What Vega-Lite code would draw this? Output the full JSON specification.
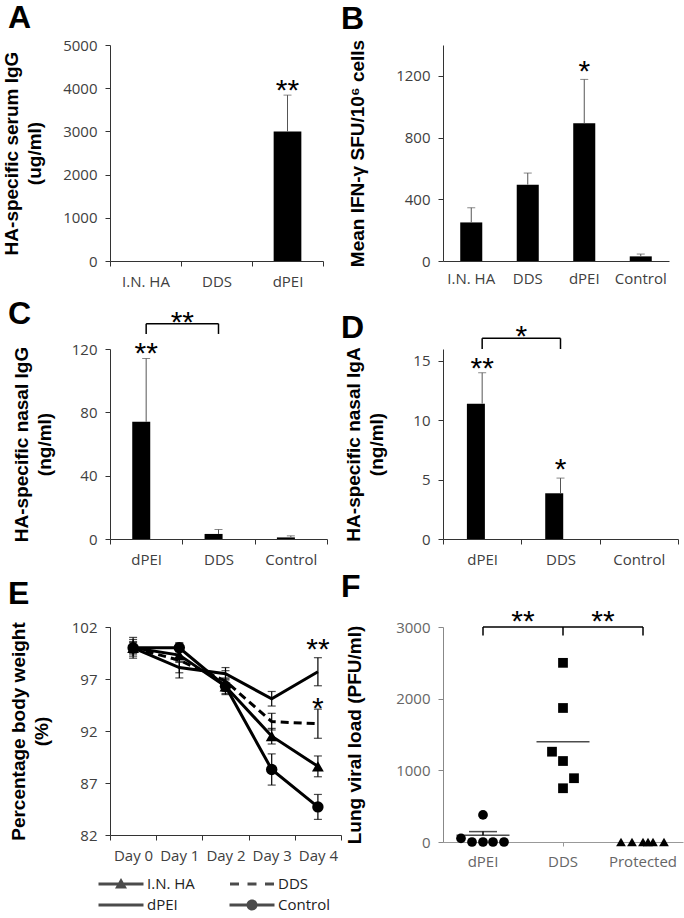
{
  "$schema": "https://vega.github.io/schema/vega-lite/v6.json",
  "background": "white",
  "padding": {"left": 2, "top": 2, "right": 4, "bottom": 0},
  "bounds": "flush",
  "columns": 2,
  "spacing": {"row": 88, "column": 102},
  "resolve": {"scale": {"shape": "independent", "xOffset": "independent"}, "legend": {"shape": "independent"}},
  "config": {
    "view": {"stroke": null},
    "axis": {"grid": false, "labelFont": "Open Sans", "labelFontSize": 15, "labelColor": "#404040", "domainColor": "#333", "tickColor": "#333", "titleFont": "Liberation Sans", "titleFontSize": 19, "titleFontWeight": "bold", "titleColor": "black", "titleLineHeight": 23, "tickSize": 5, "labelPadding": 8, "labelOverlap": false, "labelFlush": false},
    "axisX": {"labelAngle": 0},
    "axisY": {"format": "d"},
    "title": {"font": "Liberation Sans", "fontSize": 32, "fontWeight": "bold", "color": "black", "anchor": "start", "frame": "group", "dx": -102, "baseline": "alphabetic"},
    "text": {"font": "Liberation Sans", "fontSize": 30, "baseline": "alphabetic", "dy": 17, "align": "center", "color": "black"}
  },
  "concat": [
    {
      "width": 213, "height": 216,
      "title": {"text": "A", "offset": 3},
      "encoding": {"x": {"field": "g", "type": "nominal", "sort": null, "scale": {"domain": ["I.N. HA", "DDS", "dPEI"], "paddingInner": 0, "paddingOuter": 0}, "axis": {"title": null, "tickBand": "extent"}}},
      "layer": [
        {"data": {"values": [{"g": "I.N. HA", "v": 0}, {"g": "DDS", "v": 0}, {"g": "dPEI", "v": 3000}]},
         "mark": {"type": "bar", "color": "black", "width": {"band": 0.39}},
         "encoding": {"y": {"field": "v", "type": "quantitative", "scale": {"domain": [0, 5000]}, "axis": {"values": [0, 1000, 2000, 3000, 4000, 5000], "title": ["HA-specific serum IgG", "(ug/ml)"], "titlePadding": 18}}}},
        {"data": {"values": [{"g": "dPEI", "v": 3000, "u": 3840}]},
         "mark": {"type": "rule", "color": "#555", "strokeWidth": 1},
         "encoding": {"y": {"field": "v", "type": "quantitative"}, "y2": {"field": "u"}}},
        {"data": {"values": [{"g": "dPEI", "u": 3840}]},
         "mark": {"type": "tick", "color": "#555", "size": 8, "thickness": 1, "orient": "horizontal"},
         "encoding": {"y": {"field": "u", "type": "quantitative"}}},
        {"data": {"values": [{"g": "dPEI", "y": 4110, "t": "**"}]},
         "mark": {"type": "text"},
         "encoding": {"y": {"field": "y", "type": "quantitative"}, "text": {"field": "t"}}}
      ]
    },
    {
      "width": 226, "height": 216,
      "title": {"text": "B", "offset": 3},
      "encoding": {"x": {"field": "g", "type": "nominal", "sort": null, "scale": {"domain": ["I.N. HA", "DDS", "dPEI", "Control"], "paddingInner": 0, "paddingOuter": 0}, "axis": {"title": null, "ticks": false, "labelPadding": 10}}},
      "layer": [
        {"data": {"values": [{"g": "I.N. HA", "v": 250}, {"g": "DDS", "v": 495}, {"g": "dPEI", "v": 893}, {"g": "Control", "v": 30}]},
         "mark": {"type": "bar", "color": "black", "width": {"band": 0.39}},
         "encoding": {"y": {"field": "v", "type": "quantitative", "scale": {"domain": [0, 1400]}, "axis": {"values": [0, 200, 400, 600, 800, 1000, 1200, 1400], "title": "Mean IFN-γ SFU/10⁶ cells", "titlePadding": 28}}}},
        {"data": {"values": [{"g": "I.N. HA", "v": 250, "u": 345}, {"g": "DDS", "v": 495, "u": 570}, {"g": "dPEI", "v": 893, "u": 1177}, {"g": "Control", "v": 30, "u": 45}]},
         "mark": {"type": "rule", "color": "#555", "strokeWidth": 1},
         "encoding": {"y": {"field": "v", "type": "quantitative"}, "y2": {"field": "u"}}},
        {"data": {"values": [{"g": "I.N. HA", "u": 345}, {"g": "DDS", "u": 570}, {"g": "dPEI", "u": 1177}, {"g": "Control", "u": 45}]},
         "mark": {"type": "tick", "color": "#555", "size": 8, "thickness": 1, "orient": "horizontal"},
         "encoding": {"y": {"field": "u", "type": "quantitative"}}},
        {"data": {"values": [{"g": "dPEI", "y": 1280, "t": "*"}]},
         "mark": {"type": "text"},
         "encoding": {"y": {"field": "y", "type": "quantitative"}, "text": {"field": "t"}}}
      ]
    },
    {
      "width": 217, "height": 190,
      "title": {"text": "C", "offset": -23},
      "encoding": {"x": {"field": "g", "type": "nominal", "sort": null, "scale": {"domain": ["dPEI", "DDS", "Control"], "paddingInner": 0, "paddingOuter": 0}, "axis": {"title": null, "tickBand": "extent"}}},
      "layer": [
        {"data": {"values": [{"g": "dPEI", "v": 74}, {"g": "DDS", "v": 3.2}, {"g": "Control", "v": 1.0}]},
         "mark": {"type": "bar", "color": "black", "width": {"band": 0.385}},
         "encoding": {"y": {"field": "v", "type": "quantitative", "scale": {"domain": [0, 120]}, "axis": {"values": [0, 20, 40, 60, 80, 100, 120], "title": ["HA-specific nasal IgG", "(ng/ml)"], "titlePadding": 17}}}},
        {"data": {"values": [{"g": "dPEI", "v": 74, "u": 114}, {"g": "DDS", "v": 3.2, "u": 6}, {"g": "Control", "v": 1.0, "u": 2}]},
         "mark": {"type": "rule", "color": "#555", "strokeWidth": 1},
         "encoding": {"y": {"field": "v", "type": "quantitative"}, "y2": {"field": "u"}}},
        {"data": {"values": [{"g": "dPEI", "u": 114}, {"g": "DDS", "u": 6}, {"g": "Control", "u": 2}]},
         "mark": {"type": "tick", "color": "#555", "size": 8, "thickness": 1, "orient": "horizontal"},
         "encoding": {"y": {"field": "u", "type": "quantitative"}}},
        {"data": {"values": [{"g": "dPEI", "y": 122, "t": "**"}]},
         "mark": {"type": "text"},
         "encoding": {"y": {"field": "y", "type": "quantitative"}, "text": {"field": "t"}}},
        {"data": {"values": [{"g": "dPEI", "g2": "DDS", "y": 136}]},
         "mark": {"type": "rule", "color": "black", "strokeWidth": 1.5},
         "encoding": {"y": {"field": "y", "type": "quantitative"}, "x2": {"field": "g2"}}},
        {"data": {"values": [{"g": "dPEI", "y": 136, "y2": 129.5}, {"g": "DDS", "y": 136, "y2": 129.5}]},
         "mark": {"type": "rule", "color": "black", "strokeWidth": 1.5},
         "encoding": {"y": {"field": "y", "type": "quantitative"}, "y2": {"field": "y2"}}},
        {"data": {"values": [{"g": "dPEI", "o": 0.5, "y": 141.5, "t": "**"}]},
         "mark": {"type": "text"},
         "encoding": {"xOffset": {"field": "o", "type": "quantitative", "scale": {"domain": [-0.5, 0.5], "range": [0, 72.33]}}, "y": {"field": "y", "type": "quantitative"}, "text": {"field": "t"}}}
      ]
    },
    {
      "width": 235, "height": 190,
      "title": {"text": "D", "offset": -23},
      "encoding": {"x": {"field": "g", "type": "nominal", "sort": null, "scale": {"domain": ["dPEI", "DDS", "Control"], "paddingInner": 0, "paddingOuter": 0}, "axis": {"title": null, "tickBand": "extent"}}},
      "layer": [
        {"data": {"values": [{"g": "dPEI", "v": 11.4}, {"g": "DDS", "v": 3.85}, {"g": "Control", "v": 0}]},
         "mark": {"type": "bar", "color": "black", "width": {"band": 0.39}},
         "encoding": {"y": {"field": "v", "type": "quantitative", "scale": {"domain": [0, 15]}, "axis": {"values": [0, 5, 10, 15], "title": ["HA-specific nasal IgA", "(ng/ml)"], "titlePadding": 26}}}},
        {"data": {"values": [{"g": "dPEI", "v": 11.4, "u": 14.0}, {"g": "DDS", "v": 3.85, "u": 5.13}]},
         "mark": {"type": "rule", "color": "#555", "strokeWidth": 1},
         "encoding": {"y": {"field": "v", "type": "quantitative"}, "y2": {"field": "u"}}},
        {"data": {"values": [{"g": "dPEI", "u": 14.0}, {"g": "DDS", "u": 5.13}]},
         "mark": {"type": "tick", "color": "#555", "size": 8, "thickness": 1, "orient": "horizontal"},
         "encoding": {"y": {"field": "u", "type": "quantitative"}}},
        {"data": {"values": [{"g": "dPEI", "y": 15.0, "t": "**"}, {"g": "DDS", "y": 6.5, "t": "*"}]},
         "mark": {"type": "text"},
         "encoding": {"y": {"field": "y", "type": "quantitative"}, "text": {"field": "t"}}},
        {"data": {"values": [{"g": "dPEI", "g2": "DDS", "y": 16.9}]},
         "mark": {"type": "rule", "color": "black", "strokeWidth": 1.5},
         "encoding": {"y": {"field": "y", "type": "quantitative"}, "x2": {"field": "g2"}}},
        {"data": {"values": [{"g": "dPEI", "y": 16.9, "y2": 16.0}, {"g": "DDS", "y": 16.9, "y2": 16.0}]},
         "mark": {"type": "rule", "color": "black", "strokeWidth": 1.5},
         "encoding": {"y": {"field": "y", "type": "quantitative"}, "y2": {"field": "y2"}}},
        {"data": {"values": [{"g": "dPEI", "o": 0.5, "y": 17.7, "t": "*"}]},
         "mark": {"type": "text"},
         "encoding": {"xOffset": {"field": "o", "type": "quantitative", "scale": {"domain": [-0.5, 0.5], "range": [0, 78.33]}}, "y": {"field": "y", "type": "quantitative"}, "text": {"field": "t"}}}
      ]
    },
    {
      "width": 231, "height": 208,
      "title": {"text": "E", "offset": 9},
      "encoding": {"x": {"field": "day", "type": "nominal", "sort": null, "scale": {"domain": ["Day 0", "Day 1", "Day 2", "Day 3", "Day 4"], "paddingInner": 0, "paddingOuter": 0}, "axis": {"title": null, "tickBand": "extent"}}},
      "layer": [
        {"data": {"name": "e"},
         "transform": [{"filter": {"not": {"field": "series", "equal": "DDS"}}}],
         "mark": {"type": "line", "color": "black", "strokeWidth": 3},
         "encoding": {"y": {"field": "w", "type": "quantitative", "scale": {"domain": [82, 102]}, "axis": {"values": [82, 87, 92, 97, 102], "title": ["Percentage body weight", "(%)"], "titlePadding": 20}},
                      "detail": {"field": "series"}}},
        {"data": {"name": "e"},
         "transform": [{"filter": {"field": "series", "equal": "DDS"}}],
         "mark": {"type": "line", "color": "black", "strokeWidth": 3, "strokeDash": [8, 5]},
         "encoding": {"y": {"field": "w", "type": "quantitative"}}},
        {"data": {"name": "e"},
         "mark": {"type": "rule", "color": "black", "strokeWidth": 1.2},
         "encoding": {"y": {"field": "lo", "type": "quantitative"}, "y2": {"field": "hi"}}},
        {"data": {"name": "e"},
         "mark": {"type": "tick", "color": "black", "size": 8, "thickness": 1.2, "orient": "horizontal"},
         "encoding": {"y": {"field": "hi", "type": "quantitative"}}},
        {"data": {"name": "e"},
         "mark": {"type": "tick", "color": "black", "size": 8, "thickness": 1.2, "orient": "horizontal"},
         "encoding": {"y": {"field": "lo", "type": "quantitative"}}},
        {"data": {"name": "e"},
         "transform": [{"filter": {"field": "series", "equal": "I.N. HA"}}],
         "mark": {"type": "point", "shape": "triangle-up", "filled": true, "color": "black", "opacity": 1, "size": 140},
         "encoding": {"y": {"field": "w", "type": "quantitative"}}},
        {"data": {"name": "e"},
         "transform": [{"filter": {"field": "series", "equal": "Control"}}],
         "mark": {"type": "point", "shape": "circle", "filled": true, "color": "black", "opacity": 1, "size": 130},
         "encoding": {"y": {"field": "w", "type": "quantitative"}}},
        {"data": {"values": [{"day": "Day 4", "y": 100.6, "t": "**"}, {"day": "Day 4", "y": 94.9, "t": "*"}]},
         "mark": {"type": "text"},
         "encoding": {"y": {"field": "y", "type": "quantitative"}, "text": {"field": "t"}}},
        {"data": {"values": [{"series": "I.N. HA", "day": "Day 0", "w": 100}, {"series": "DDS", "day": "Day 0", "w": 100}, {"series": "dPEI", "day": "Day 0", "w": 100}, {"series": "Control", "day": "Day 0", "w": 100}]},
         "mark": {"type": "point", "filled": true, "color": "black", "size": 0},
         "encoding": {"y": {"field": "w", "type": "quantitative"},
            "shape": {"field": "series", "type": "nominal",
            "scale": {"domain": ["I.N. HA", "DDS", "dPEI", "Control"],
                      "range": ["M-2.25,-0.15L2.25,-0.15L2.25,0.15L-2.25,0.15ZM-0.6,0.45L0,-0.6L0.6,0.45Z", "M-2.2,-0.15L-1.3,-0.15L-1.3,0.15L-2.2,0.15ZM-0.45,-0.15L0.45,-0.15L0.45,0.15L-0.45,0.15ZM1.3,-0.15L2.2,-0.15L2.2,0.15L1.3,0.15Z", "M-2.25,-0.15L2.25,-0.15L2.25,0.15L-2.25,0.15Z", "M-2.25,-0.15L2.25,-0.15L2.25,0.15L-2.25,0.15ZM-0.55,0A0.55,0.55,0,1,1,0.55,0A0.55,0.55,0,1,1,-0.55,0Z"]},
            "legend": {"title": null, "orient": "bottom", "offset": 10, "direction": "horizontal", "columns": 2, "columnPadding": 31, "rowPadding": 2, "symbolSize": 400, "symbolFillColor": "black", "labelFont": "Open Sans", "labelFontSize": 15, "labelColor": "#222", "labelOffset": 15}}}}
      ]
    },
    {
      "width": 240, "height": 215,
      "title": {"text": "F", "offset": 3},
      "encoding": {"x": {"field": "g", "type": "nominal", "sort": null, "scale": {"domain": ["dPEI", "DDS", "Protected"], "paddingInner": 0, "paddingOuter": 0}, "axis": {"title": null, "domainColor": "#999", "tickColor": "#999", "tickSize": 4, "labelColor": "#666"}}},
      "layer": [
        {"data": {"values": [
            {"g": "dPEI", "v": 378, "o": 0}, {"g": "dPEI", "v": 50, "o": -22}, {"g": "dPEI", "v": 0, "o": -11}, {"g": "dPEI", "v": 0, "o": 0}, {"g": "dPEI", "v": 0, "o": 10}, {"g": "dPEI", "v": 0, "o": 21},
            {"g": "DDS", "v": 2500, "o": 0}, {"g": "DDS", "v": 1870, "o": 0}, {"g": "DDS", "v": 1260, "o": -11}, {"g": "DDS", "v": 1130, "o": 0}, {"g": "DDS", "v": 890, "o": 11}, {"g": "DDS", "v": 750, "o": 0},
            {"g": "Protected", "v": 0, "o": -22}, {"g": "Protected", "v": 0, "o": -11}, {"g": "Protected", "v": 0, "o": 0}, {"g": "Protected", "v": 0, "o": 5}, {"g": "Protected", "v": 0, "o": 10}, {"g": "Protected", "v": 0, "o": 21}]},
         "mark": {"type": "point", "filled": true, "color": "black", "opacity": 1, "size": 95},
         "encoding": {"xOffset": {"field": "o", "type": "quantitative", "scale": {"domain": [-40, 40], "range": [0, 80]}},
                      "y": {"field": "v", "type": "quantitative", "scale": {"domain": [0, 3000]}, "axis": {"values": [0, 1000, 2000, 3000], "title": "Lung viral load  (PFU/ml)", "titlePadding": 31, "labelColor": "#666", "domainColor": "#888", "tickColor": "#888"}},
                      "shape": {"field": "g", "type": "nominal", "scale": {"domain": ["dPEI", "DDS", "Protected"], "range": ["circle", "square", "triangle-up"]}, "legend": null}}},
        {"data": {"values": [{"g": "dPEI", "m": 94}, {"g": "DDS", "m": 1400}]},
         "mark": {"type": "tick", "color": "black", "size": 53, "thickness": 1.5, "orient": "horizontal"},
         "encoding": {"y": {"field": "m", "type": "quantitative"}}},
        {"data": {"values": [{"g": "dPEI", "m": 94, "u": 145}]},
         "mark": {"type": "rule", "color": "black", "strokeWidth": 1.5},
         "encoding": {"y": {"field": "m", "type": "quantitative"}, "y2": {"field": "u"}}},
        {"data": {"values": [{"g": "dPEI", "u": 145}]},
         "mark": {"type": "tick", "color": "black", "size": 28, "thickness": 1.5, "orient": "horizontal"},
         "encoding": {"y": {"field": "u", "type": "quantitative"}}},
        {"data": {"values": [{"g": "dPEI", "g2": "DDS", "y": 3000}, {"g": "DDS", "g2": "Protected", "y": 3000}]},
         "mark": {"type": "rule", "color": "black", "strokeWidth": 1.5},
         "encoding": {"y": {"field": "y", "type": "quantitative"}, "x2": {"field": "g2"}}},
        {"data": {"values": [{"g": "dPEI", "y": 3000, "y2": 2880}, {"g": "DDS", "y": 3000, "y2": 2880}, {"g": "Protected", "y": 3000, "y2": 2880}]},
         "mark": {"type": "rule", "color": "black", "strokeWidth": 1.5},
         "encoding": {"y": {"field": "y", "type": "quantitative"}, "y2": {"field": "y2"}}},
        {"data": {"values": [{"g": "dPEI", "o": 40, "y": 3180, "t": "**"}, {"g": "DDS", "o": 40, "y": 3180, "t": "**"}]},
         "mark": {"type": "text"},
         "encoding": {"xOffset": {"field": "o", "type": "quantitative", "scale": {"domain": [-40, 40], "range": [0, 80]}}, "y": {"field": "y", "type": "quantitative"}, "text": {"field": "t"}}}
      ]
    }
  ],
  "datasets": {
    "e": [
      {"series": "I.N. HA", "day": "Day 0", "w": 100.0, "lo": 99.2, "hi": 100.8},
      {"series": "I.N. HA", "day": "Day 1", "w": 99.3, "lo": 98.7, "hi": 99.9},
      {"series": "I.N. HA", "day": "Day 2", "w": 96.3, "lo": 95.5, "hi": 97.1},
      {"series": "I.N. HA", "day": "Day 3", "w": 91.5, "lo": 90.75, "hi": 92.25},
      {"series": "I.N. HA", "day": "Day 4", "w": 88.6, "lo": 87.6, "hi": 89.6},
      {"series": "DDS", "day": "Day 0", "w": 100.0, "lo": 99.0, "hi": 101.0},
      {"series": "DDS", "day": "Day 1", "w": 98.8, "lo": 97.1, "hi": 100.5},
      {"series": "DDS", "day": "Day 2", "w": 96.8, "lo": 95.8, "hi": 97.8},
      {"series": "DDS", "day": "Day 3", "w": 92.9, "lo": 92.1, "hi": 93.7},
      {"series": "DDS", "day": "Day 4", "w": 92.7, "lo": 91.3, "hi": 94.1},
      {"series": "dPEI", "day": "Day 0", "w": 100.0, "lo": 99.4, "hi": 100.6},
      {"series": "dPEI", "day": "Day 1", "w": 98.1, "lo": 97.6, "hi": 98.6},
      {"series": "dPEI", "day": "Day 2", "w": 97.5, "lo": 96.9, "hi": 98.1},
      {"series": "dPEI", "day": "Day 3", "w": 95.1, "lo": 94.4, "hi": 95.8},
      {"series": "dPEI", "day": "Day 4", "w": 97.7, "lo": 96.35, "hi": 99.05},
      {"series": "Control", "day": "Day 0", "w": 100.0, "lo": 99.5, "hi": 100.5},
      {"series": "Control", "day": "Day 1", "w": 100.0, "lo": 99.6, "hi": 100.4},
      {"series": "Control", "day": "Day 2", "w": 96.3, "lo": 95.6, "hi": 97.0},
      {"series": "Control", "day": "Day 3", "w": 88.3, "lo": 86.8, "hi": 89.8},
      {"series": "Control", "day": "Day 4", "w": 84.7, "lo": 83.5, "hi": 85.9}
    ]
  }
}
